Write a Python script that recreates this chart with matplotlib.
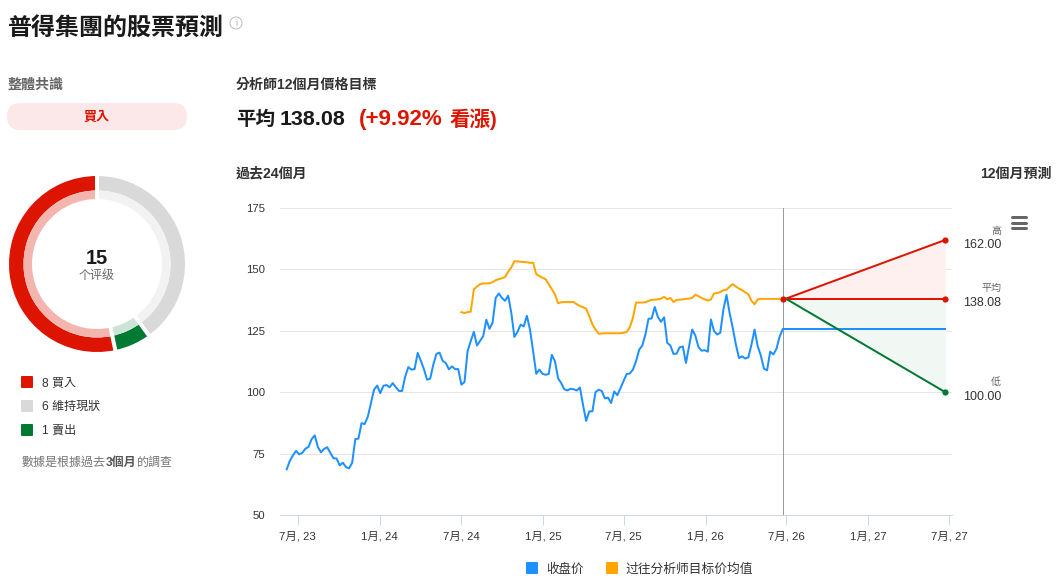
#coding:utf-8
import matplotlib
matplotlib.use('Agg')
import matplotlib.pyplot as plt
from matplotlib.patches import FancyBboxPatch
import numpy as np
import pandas as pd

plt.rcParams['font.family'] = ['Liberation Sans', 'Noto Sans CJK TC', 'DejaVu Sans']

# weekly close
close = [68.6, 72.0, 74.3, 76.1, 74.7, 75.3, 77.0, 77.7, 80.9, 82.4, 77.7, 75.5, 76.9, 77.6, 75.3, 73.1,
         73.0, 70.2, 71.3, 69.5, 69.0, 71.3, 80.9, 81.1, 87.4, 87.0, 90.0, 95.5, 101.0, 102.7, 99.6, 102.6,
         102.9, 102.0, 103.7, 102.0, 100.5, 100.5, 106.4, 110.2, 109.2, 109.4, 116.0, 112.8, 109.4, 105.1,
         105.5, 111.2, 115.6, 116.1, 112.8, 111.9, 109.3, 110.5, 109.4, 109.4, 103.1, 104.1, 116.7, 120.8,
         124.6, 119.0, 120.9, 122.8, 129.5, 125.8, 128.3, 138.4, 140.2, 138.4, 137.2, 139.3, 132.4, 122.5,
         124.6, 127.5, 126.8, 131.1, 125.5, 116.7, 107.5, 109.2, 107.5, 107.1, 107.4, 115.2, 112.6, 105.7,
         103.7, 101.2, 100.7, 101.4, 101.2, 100.7, 101.9, 94.8, 88.3, 92.2, 92.2, 100.0, 101.0, 100.5,
         97.5, 97.8, 95.6, 100.3, 98.8, 101.6, 104.6, 107.4, 107.6, 109.2, 112.6, 117.3, 119.0, 123.5,
         129.9, 130.0, 134.7, 130.6, 128.7, 130.5, 120.1, 119.0, 115.6, 115.7, 118.3, 118.6, 111.9, 118.7,
         125.5, 123.1, 118.4, 116.9, 117.1, 116.5, 129.6, 124.9, 123.5, 124.2, 133.7, 139.6, 132.2, 126.2,
         119.4, 113.9, 114.6, 113.7, 114.2, 119.4, 125.5, 118.7, 114.9, 109.6, 108.9, 116.5, 115.4, 117.6,
         122.5, 125.6]

# past analyst mean target, starts at week 56
target = [132.6, 132.2, 132.6, 132.8, 141.9, 143.0, 144.0, 144.3, 144.3, 144.3, 144.8, 145.6, 146.0, 146.4,
          146.9, 149.0, 150.8, 153.3, 153.3, 153.1, 153.0, 152.9, 152.7, 152.7, 148.1, 147.3, 146.6, 146.0,
          144.0, 141.9, 139.9, 136.2, 136.6, 136.7, 136.7, 136.7, 136.7, 135.8, 135.1, 134.6, 134.0, 131.0,
          127.6, 125.5, 123.8, 123.9, 124.0, 124.0, 124.0, 124.0, 124.0, 124.0, 124.2, 124.5, 126.5, 130.3,
          136.5, 136.5, 136.5, 136.6, 137.2, 137.6, 137.7, 137.8, 138.1, 138.8, 137.8, 138.4, 136.7, 137.6,
          137.7, 137.8, 138.0, 138.1, 138.4, 139.7, 139.1, 138.4, 137.8, 137.3, 137.8, 140.2, 140.4, 140.8,
          141.5, 141.7, 143.0, 144.0, 143.0, 142.2, 141.5, 140.7, 139.9, 137.2, 135.8, 137.8, 138.0, 138.0,
          138.0, 138.0, 138.0, 138.0, 138.0]
target_start = 56

high = 162.00
mean = 138.08
low = 100.00
last_close = 125.6

ratings = [6, 1, 8]
rating_colors = ['#d9d9d9', '#007a33', '#dc1400']
rating_light = ['#f2f2f2', '#cce4d6', '#f4b5ae']

tick_dates = ['2023-07-01', '2024-01-01', '2024-07-01', '2025-01-01', '2025-07-01', '2026-01-01',
              '2026-07-01', '2027-01-01', '2027-07-01']
tick_labels = ['7月, 23', '1月, 24', '7月, 24', '1月, 25', '7月, 25', '1月, 26', '7月, 26', '1月, 27', '7月, 27']
y_ticks = [50, 75, 100, 125, 150, 175]

RED = '#dc1400'
GREEN = '#007a33'
BLUE = '#1e90ff'
ORANGE = '#ffa500'

W, H = 1058, 578
fig = plt.figure(figsize=(W / 100, H / 100), dpi=100)
fig.patch.set_facecolor('white')

def px(v):
    return v * 0.72

# main chart
ax = fig.add_axes([280 / W, 1 - 515 / H, (952 - 280) / W, (515 - 208) / H])
dates = pd.date_range('2023-06-06', periods=len(close), freq='7D')
target_dates = dates[target_start:target_start + len(target)]
now = dates[-1]
fc_start = now + pd.Timedelta(days=7)
fc_end = now + pd.Timedelta(days=365)

ax.plot(dates, close, color=BLUE, lw=px(2), solid_joinstyle='round', zorder=3)
ax.plot(target_dates, target, color=ORANGE, lw=px(2), solid_joinstyle='round', zorder=3)
ax.plot([now, fc_end], [last_close, last_close], color=BLUE, lw=px(2), zorder=3)

fx = [fc_start, fc_end]
ax.fill_between(fx, [mean, mean], [mean, high], color='#fff0f0', lw=0, zorder=1)
ax.fill_between(fx, [mean, mean], [mean, low], color='#f1f8f4', lw=0, zorder=1)
ax.plot(fx, [mean, high], color=RED, lw=px(2), zorder=4)
ax.plot(fx, [mean, mean], color=RED, lw=px(2), zorder=4)
ax.plot(fx, [mean, low], color=GREEN, lw=px(2), zorder=4)
ax.scatter([now, fc_end, fc_end], [mean, high, mean], s=20, color=RED, lw=0, zorder=5)
ax.scatter([fc_end], [low], s=20, color=GREEN, lw=0, zorder=5)
ax.axvline(now, color='#999999', lw=px(1), zorder=2)

ax.set_ylim(50, 175)
ax.set_xlim(pd.Timestamp('2023-07-01') - pd.Timedelta(days=40),
            pd.Timestamp('2027-07-01') + pd.Timedelta(days=7))
ax.set_yticks(y_ticks)
ax.set_xticks(pd.to_datetime(tick_dates))
ax.set_xticklabels(tick_labels)
ax.grid(axis='y', color='#e6e6e6', lw=px(1))
ax.set_axisbelow(True)
for s in ['top', 'left', 'right']:
    ax.spines[s].set_visible(False)
ax.spines['bottom'].set_color('#ccd6eb')
ax.spines['bottom'].set_linewidth(px(1))
ax.tick_params(axis='x', length=px(10), width=px(1), color='#ccd6eb', labelsize=8.2, labelcolor='#333333', pad=px(6))
ax.tick_params(axis='y', length=0, labelsize=8.2, labelcolor='#333333', pad=px(15))

# donut
dax = fig.add_axes([(97 - 95) / W, 1 - (264 + 95) / H, 190 / W, 190 / H])
dax.pie(ratings, colors=rating_colors, startangle=90, counterclock=False, radius=88,
        wedgeprops=dict(width=14.5, linewidth=0))
dax.pie(ratings, colors=rating_light, startangle=90, counterclock=False, radius=73.5,
        wedgeprops=dict(width=8.5, linewidth=0))
# white gaps between the slices
for c in np.cumsum(ratings):
    ang = np.pi / 2 - 2 * np.pi * c / sum(ratings)
    dax.plot([60 * np.cos(ang), 92 * np.cos(ang)], [60 * np.sin(ang), 92 * np.sin(ang)],
             color='white', lw=px(4), solid_capstyle='butt')
dax.set_xlim(-95, 95)
dax.set_ylim(-95, 95)
dax.set_aspect('equal')
dax.axis('off')

# page text, in pixel coordinates
page = fig.add_axes([0, 0, 1, 1], zorder=10)
page.set_xlim(0, W)
page.set_ylim(H, 0)
page.axis('off')

def t(x, y, s, size, color='#1a1a1a', weight='normal', ha='left', family=None):
    kw = {}
    if family:
        kw['family'] = family
    return page.text(x, y + 1.5, s, fontsize=px(size), color=color, fontweight=weight, ha=ha, va='center', **kw)

SC = ['Liberation Sans', 'Noto Sans CJK SC', 'DejaVu Sans']

t(8, 26.5, '普得集團的股票預測', 24, '#1a1a1a', 'bold')
page.add_patch(plt.Circle((236, 23), 6, fc='white', ec='#bdbdbd', lw=px(1)))
t(236, 22, 'i', 9, '#aaaaaa', ha='center')

t(8, 83, '整體共識', 14, '#666666', 'bold')
page.add_patch(FancyBboxPatch((7, 103), 180, 27, boxstyle='round,pad=0,rounding_size=13.5',
                              fc='#fce8e8', ec='none'))
t(97, 116, '買入', 13, RED, 'bold', ha='center')

t(97, 257, '15', 20, '#1a1a1a', 'bold', ha='center')
t(97, 274, '个评级', 12, '#666666', ha='center', family=SC)

legend_rows = ['8 買入', '6 維持現狀', '1 賣出']
legend_cols = [RED, '#d9d9d9', GREEN]
for i, (lab, col) in enumerate(zip(legend_rows, legend_cols)):
    yy = 382 + i * 24
    page.add_patch(FancyBboxPatch((21, yy - 6), 12, 12, boxstyle='round,pad=0,rounding_size=1', fc=col, ec='none'))
    t(42, yy - 0.5, lab, 12, '#333333')

t(22, 461, '數據是根據過去', 12, '#777777')
t(106, 461, '3個月', 12, '#555555', 'bold')
t(137, 461, '的調查', 12, '#777777')

t(236, 83, '分析師12個月價格目標', 14, '#333333', 'bold')
t(236, 118, '平均', 19.5, '#1a1a1a', 'bold')
t(280, 118, '138.08', 21.5, '#1a1a1a', 'bold')
t(359, 118, '(+9.92%', 22.4, RED, 'bold')
t(450, 118, '看漲)', 20.5, RED, 'bold')
t(236, 172, '過去24個月', 14, '#333333', 'bold')
t(1052, 172, '12個月預測', 14, '#333333', 'bold', ha='right')

for yy in [217, 222.5, 228]:
    page.plot([1012, 1026], [yy, yy], color='#666666', lw=px(3), solid_capstyle='round')

for lab, val, y1, y2 in [('高', '162.00', 229.5, 243.5), ('平均', '138.08', 286.5, 301.5), ('低', '100.00', 380.5, 395.5)]:
    t(1001, y1, lab, 10, '#666666', ha='right')
    t(1001, y2, val, 12.5, '#333333', ha='right')

page.add_patch(FancyBboxPatch((526, 562), 12, 12, boxstyle='round,pad=0,rounding_size=1', fc=BLUE, ec='none'))
t(546, 568, '收盘价', 12.5, '#333333', family=SC)
page.add_patch(FancyBboxPatch((606, 562), 12, 12, boxstyle='round,pad=0,rounding_size=1', fc=ORANGE, ec='none'))
t(625, 568, '过往分析师目标价均值', 12.8, '#333333', family=SC)

fig.savefig('out.png', dpi=100)
